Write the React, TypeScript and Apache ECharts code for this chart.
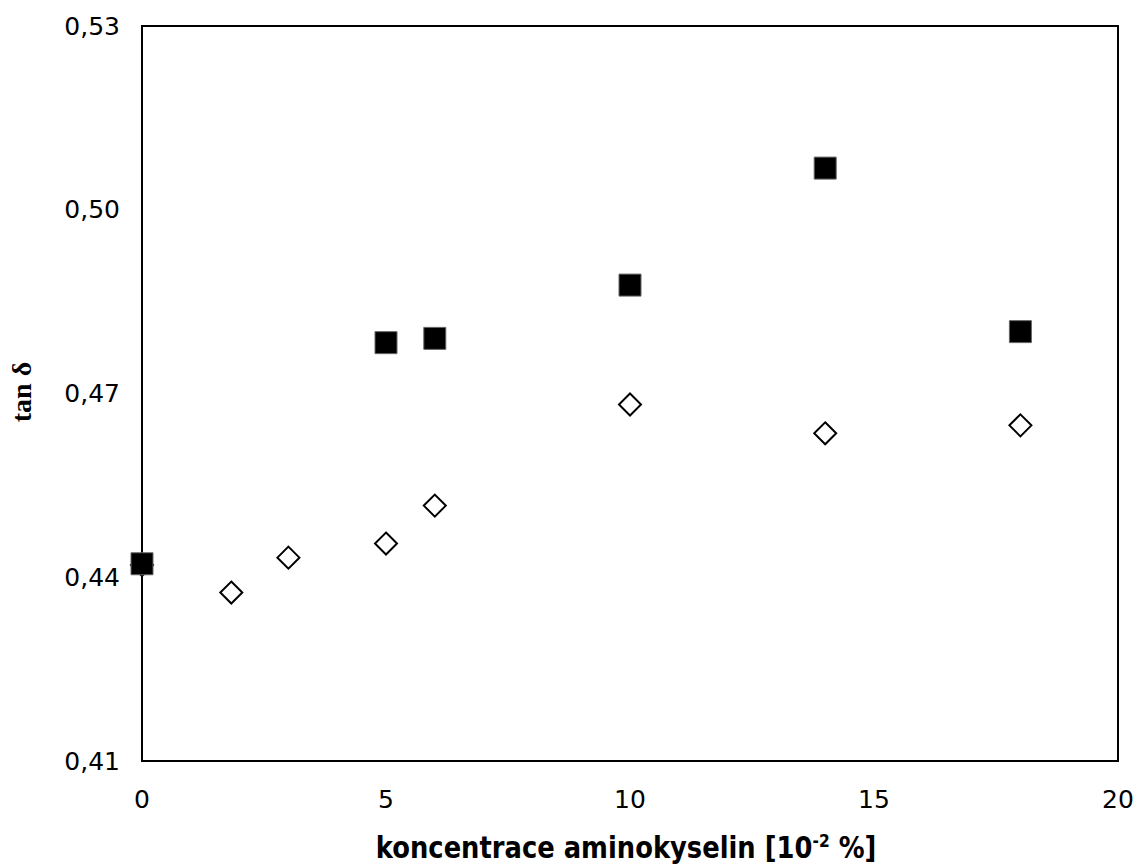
import React, { useEffect, useRef } from "react";
import * as echarts from "echarts";

// concentration of amino acids [10^-2 %]
const squareX = [0, 5, 6, 10, 14, 18];
const squareY = [0.4422, 0.4783, 0.479, 0.4877, 0.5068, 0.4801];

const diamondX = [0, 1.83, 3, 5, 6, 10, 14, 18];
const diamondY = [0.442, 0.4375, 0.4432, 0.4455, 0.4517, 0.4682, 0.4635, 0.4648];

const yTicks = [0.41, 0.44, 0.47, 0.5, 0.53];

const pairs = (xs: number[], ys: number[]) => xs.map((x, i) => [x, ys[i]]);

export default function App() {
  const ref = useRef<HTMLDivElement>(null);

  useEffect(() => {
    if (!ref.current) return;
    const chart = echarts.init(ref.current, null, { renderer: "svg" });
    chart.setOption({
      animation: false,
      backgroundColor: "#fff",
      grid: {
        left: 142,
        top: 26,
        right: 21,
        bottom: 106,
        show: true,
        borderColor: "#000",
        borderWidth: 2,
        backgroundColor: "transparent",
      },
      xAxis: {
        type: "value",
        min: 0,
        max: 20,
        interval: 5,
        axisLine: { show: false },
        axisTick: { show: false },
        splitLine: { show: false },
        axisLabel: {
          margin: 26,
          color: "#000",
          fontFamily: "DejaVu Sans",
          fontSize: 25,
        },
      },
      yAxis: {
        type: "value",
        min: 0.41,
        max: 0.53,
        axisLine: { show: false },
        axisTick: { show: false },
        splitLine: { show: false },
        axisLabel: {
          customValues: yTicks,
          margin: 22,
          color: "#000",
          fontFamily: "DejaVu Sans",
          fontSize: 25,
          formatter: (v: number) => v.toFixed(2).replace(".", ","),
        },
      },
      graphic: [
        {
          type: "text",
          x: 626,
          y: 848,
          scaleX: 0.86,
          style: {
            text: "{t|koncentrace aminokyselin [10}{s|-2}{t| %]}",
            align: "center",
            verticalAlign: "middle",
            fill: "#000",
            rich: {
              t: {
                fontFamily: "DejaVu Sans",
                fontWeight: "bold",
                fontSize: 30,
                fill: "#000",
              },
              s: {
                fontFamily: "DejaVu Sans",
                fontWeight: "bold",
                fontSize: 18,
                fill: "#000",
                padding: [0, 0, 14, 0],
              },
            },
          },
        },
        {
          type: "text",
          x: 21,
          y: 392,
          rotation: Math.PI / 2,
          style: {
            text: "tan δ",
            align: "center",
            verticalAlign: "middle",
            fill: "#000",
            fontFamily: "Liberation Serif",
            fontWeight: "bold",
            fontSize: 28,
          },
        },
      ],
      series: [
        {
          type: "scatter",
          data: pairs(diamondX, diamondY),
          symbol: "diamond",
          symbolSize: 22,
          itemStyle: { color: "#fff", borderColor: "#000", borderWidth: 2, opacity: 1 },
          z: 2,
        },
        {
          type: "scatter",
          data: pairs(squareX, squareY),
          symbol: "rect",
          symbolSize: 22,
          itemStyle: { color: "#000", borderColor: "#666", borderWidth: 1, opacity: 1 },
          z: 3,
        },
      ],
    });
    return () => chart.dispose();
  }, []);

  return (
    <div
      ref={ref}
      style={{ position: "fixed", left: 0, top: 0, width: 1139, height: 867 }}
    />
  );
}
